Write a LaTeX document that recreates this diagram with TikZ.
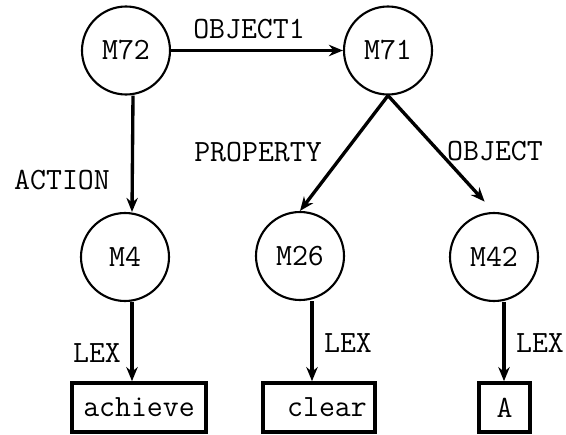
\documentclass[tikz,border=0pt]{standalone}
\usetikzlibrary{arrows.meta}
\begin{document}
\begin{tikzpicture}[x=1cm, y=1cm,
		>={Stealth[length=8pt,width=6.5pt]},   % arrow tips
		concept/.style={draw, circle, line width=1.2pt, minimum size=1.76cm, inner sep=0pt},
		lexbox/.style={draw, rectangle, line width=2.1pt, minimum height=0.98cm, inner sep=0pt},
		arc/.style={->, line width=1.9pt},
		font=\fontsize{17.6}{20}\selectfont\ttfamily]
		% page frame
		\useasboundingbox (0,0) rectangle (11.32,8.68);
		% concept nodes
		\node[concept] (m72) at (2.52,7.67) {M72};
		\node[concept] (m71) at (7.76,7.67) {M71};
		\node[concept] (m4)  at (2.50,3.54) {M4};
		\node[concept] (m26) at (6.00,3.56) {M26};
		\node[concept] (m42) at (9.88,3.54) {M42};
		% lexical entries
		\node[lexbox, minimum width=2.68cm] (ach) at (2.78,0.53) {achieve};
		\node[lexbox, minimum width=2.24cm] (clr) at (6.38,0.53) {~clear};
		\node[lexbox, minimum width=1.02cm] (a)   at (10.09,0.53) {A~};
		% arcs
		\draw[arc] (m72) -- (m71);
		\draw[arc] ([xshift=1.4mm]m72.south) -- ([xshift=1.4mm]m4.north);
		\draw[arc] (m71.south) -- (m26.north);
		\draw[arc, shorten >=0.28cm] (m71.south) -- (m42.north);
		\draw[arc] ([xshift=1.4mm]m4.south) -- ([xshift=1.4mm]m4.south |- ach.north);
		\draw[arc] ([xshift=2.4mm]m26.south) -- ([xshift=2.4mm]m26.south |- clr.north);
		\draw[arc] ([xshift=2mm]m42.south) -- ([xshift=2mm]m42.south |- a.north);
		% arc labels
		\node (lobj1) at (4.98,8.10) {OBJECT1};
		\node (lact)  at (1.24,5.08) {ACTION};
		\node (lprop) at (5.16,5.64) {PROPERTY};
		\node (lobj)  at (9.90,5.66) {OBJECT};
		\node (llex1) at (1.94,1.62) {LEX};
		\node (llex2) at (6.96,1.82) {LEX};
		\node (llex3) at (10.80,1.82) {LEX};
\end{tikzpicture}
\end{document}
